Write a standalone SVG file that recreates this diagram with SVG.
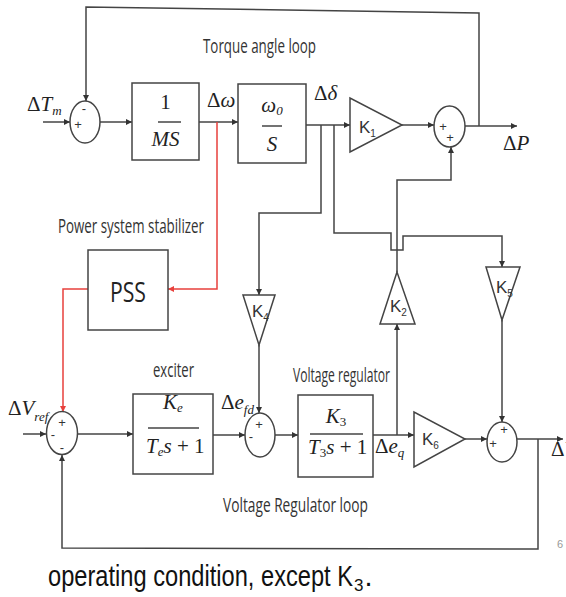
<svg xmlns="http://www.w3.org/2000/svg" width="566" height="597" viewBox="0 0 566 597">
<style>
.ln{fill:none;stroke:#444;stroke-width:1.5}
.rd{fill:none;stroke:#e8403c;stroke-width:1.5}
.bx{fill:#fff;stroke:#444;stroke-width:1.5}
.lb{font-family:"Open Sans","Liberation Sans",sans-serif;font-size:20px;fill:#333}
.mt{font-family:"Liberation Serif",serif;font-style:italic;font-size:21px;fill:#222}
.up{font-style:normal}
.sg{font-family:"Liberation Sans",sans-serif;font-size:13px;fill:#333;text-anchor:middle;dominant-baseline:central}
.kk{font-family:"Liberation Sans",sans-serif;font-size:17px;fill:#333}
.ks{font-family:"Liberation Sans",sans-serif;font-size:10px;fill:#333}
.mid{text-anchor:middle}
.bt{font-family:"Liberation Sans",Arial,sans-serif;fill:#111}
</style>
<defs>
<marker id="ar" markerWidth="7" markerHeight="7" refX="6" refY="3" orient="auto" markerUnits="userSpaceOnUse"><path d="M0,0 L6,3 L0,6 z" fill="#333"/></marker>
<marker id="arr" markerWidth="7" markerHeight="7" refX="6" refY="3" orient="auto" markerUnits="userSpaceOnUse"><path d="M0,0 L6,3 L0,6 z" fill="#e8403c"/></marker>
</defs>
<rect width="566" height="597" fill="#fff"/>

<g id="connectors">
<polyline class="ln" points="479,126 479,13 86,7 86,101" marker-end="url(#ar)"/>
<line class="ln" x1="43" y1="122" x2="70" y2="122" marker-end="url(#ar)"/>
<line class="ln" x1="100" y1="122" x2="132" y2="122" marker-end="url(#ar)"/>
<line class="ln" x1="199" y1="122" x2="238" y2="122" marker-end="url(#ar)"/>
<polyline class="rd" points="217,122 217,289 168,289" marker-end="url(#arr)"/>
<polyline class="rd" points="88,289 63,289 63,412" marker-end="url(#arr)"/>
<line class="ln" x1="306" y1="125" x2="350" y2="125" marker-end="url(#ar)"/>
<line class="ln" x1="402" y1="125" x2="434" y2="125" marker-end="url(#ar)"/>
<line class="ln" x1="465" y1="126" x2="517" y2="126" marker-end="url(#ar)"/>
<polyline class="ln" points="321,125 321,213 259,213 259,295" marker-end="url(#ar)"/>
<line class="ln" x1="259" y1="345" x2="259" y2="413" marker-end="url(#ar)"/>
<polyline class="ln" points="334,125 334,233 391,233 391,250 403,250 403,236 502,236 502,267" marker-end="url(#ar)"/>
<line class="ln" x1="397" y1="435" x2="397" y2="324" marker-end="url(#ar)"/>
<polyline class="ln" points="397,272 397,180 451,180 451,147" marker-end="url(#ar)"/>
<line class="ln" x1="23" y1="434" x2="46" y2="434" marker-end="url(#ar)"/>
<line class="ln" x1="77" y1="434" x2="133" y2="434" marker-end="url(#ar)"/>
<line class="ln" x1="213" y1="435" x2="245" y2="435" marker-end="url(#ar)"/>
<line class="ln" x1="275" y1="435" x2="298" y2="435" marker-end="url(#ar)"/>
<line class="ln" x1="373" y1="435" x2="414" y2="435" marker-end="url(#ar)"/>
<line class="ln" x1="465" y1="439" x2="487" y2="439" marker-end="url(#ar)"/>
<line class="ln" x1="502" y1="320" x2="502" y2="422" marker-end="url(#ar)"/>
<line class="ln" x1="517" y1="439" x2="563" y2="439" marker-end="url(#ar)"/>
<polyline class="ln" points="538,439 538,549 62,548 62,455" marker-end="url(#ar)"/>
</g>

<g id="sum1">
<ellipse class="bx" cx="85" cy="122" rx="15" ry="21"/>
<text class="sg" x="84" y="108">-</text>
<text class="sg" x="78" y="124">+</text>
</g>
<g id="block-1-MS">
<rect class="bx" x="132" y="83" width="67" height="77"/>
<text class="mt mid up" x="165.5" y="109">1</text>
<line class="ln" x1="158" y1="122" x2="181" y2="122"/>
<text class="mt mid" x="165.5" y="146">MS</text>
</g>
<g id="block-w0-S">
<rect class="bx" x="238" y="84" width="68" height="79"/>
<text class="mt mid" x="272" y="112">ω<tspan font-size="13" dy="3">0</tspan></text>
<line class="ln" x1="262" y1="126" x2="282" y2="126"/>
<text class="mt mid" x="272" y="151">S</text>
</g>
<g id="K1">
<polygon class="bx" points="350,98 350,152 402,125"/>
<text class="kk" x="359" y="133">K<tspan class="ks" dy="4">1</tspan></text>
</g>
<g id="sum2">
<ellipse class="bx" cx="449.5" cy="126.5" rx="15.5" ry="20.5"/>
<text class="sg" x="443" y="126">+</text>
<text class="sg" x="450" y="137">+</text>
</g>
<g id="PSS">
<rect class="bx" x="88" y="250" width="80" height="80"/>
<text x="128" y="302" text-anchor="middle" font-family="Open Sans, Liberation Sans, sans-serif" font-size="28" fill="#222" textLength="36" lengthAdjust="spacingAndGlyphs">PSS</text>
</g>
<g id="K4">
<polygon class="bx" points="243,295 275,295 259,345"/>
<text class="kk" x="252" y="317">K<tspan class="ks" dy="4">4</tspan></text>
</g>
<g id="K2">
<polygon class="bx" points="397,272 380,324 415,324"/>
<text class="kk" x="390" y="312">K<tspan class="ks" dy="4">2</tspan></text>
</g>
<g id="K5">
<polygon class="bx" points="486,267 520,267 502,320"/>
<text class="kk" x="496" y="293">K<tspan class="ks" dy="4">5</tspan></text>
</g>
<g id="sum3">
<ellipse class="bx" cx="62" cy="433" rx="15.5" ry="21.5"/>
<text class="sg" x="62" y="422">+</text>
<text class="sg" x="53" y="434">-</text>
<text class="sg" x="62" y="447">-</text>
</g>
<g id="exciter">
<rect class="bx" x="133" y="394" width="80" height="80"/>
<text class="mt mid" x="173" y="409">K<tspan font-size="13" dy="3">e</tspan></text>
<line class="ln" x1="148" y1="428" x2="199" y2="428"/>
<text class="mt" x="146" y="453">T<tspan font-size="13" dy="3">e</tspan><tspan dy="-3">s</tspan><tspan class="up"> + 1</tspan></text>
</g>
<g id="sum4">
<ellipse class="bx" cx="260" cy="435" rx="15" ry="22"/>
<text class="sg" x="259" y="424">+</text>
<text class="sg" x="251" y="436">-</text>
</g>
<g id="block-K3">
<rect class="bx" x="298" y="395" width="75" height="82"/>
<text class="mt mid" x="336" y="423">K<tspan class="up" font-size="13" dy="3">3</tspan></text>
<line class="ln" x1="310" y1="434" x2="363" y2="434"/>
<text class="mt" x="308" y="454">T<tspan class="up" font-size="13" dy="3">3</tspan><tspan dy="-3">s</tspan><tspan class="up"> + 1</tspan></text>
</g>
<g id="K6">
<polygon class="bx" points="414,412 414,467 465,439"/>
<text class="kk" x="422" y="445">K<tspan class="ks" dy="4">6</tspan></text>
</g>
<g id="sum5">
<ellipse class="bx" cx="502" cy="442" rx="15" ry="20"/>
<text class="sg" x="493" y="443">+</text>
<text class="sg" x="504" y="429">+</text>
</g>

<g id="labels">
<text class="lb" x="203" y="53" textLength="113" lengthAdjust="spacingAndGlyphs">Torque angle loop</text>
<text class="lb" x="58" y="233" textLength="146" lengthAdjust="spacingAndGlyphs">Power system stabilizer</text>
<text class="lb" x="153" y="377" textLength="41" lengthAdjust="spacingAndGlyphs">exciter</text>
<text class="lb" x="293" y="382" textLength="97" lengthAdjust="spacingAndGlyphs">Voltage regulator</text>
<text class="lb" x="223" y="512" textLength="145" lengthAdjust="spacingAndGlyphs">Voltage Regulator loop</text>
<text class="mt" x="27" y="111"><tspan class="up">Δ</tspan>T<tspan font-size="13" dy="4">m</tspan></text>
<text class="mt" x="207" y="107"><tspan class="up">Δ</tspan>ω</text>
<text class="mt" x="314" y="100"><tspan class="up">Δ</tspan>δ</text>
<text class="mt" x="503" y="150"><tspan class="up">Δ</tspan>P</text>
<text class="mt" x="551" y="456"><tspan class="up">Δ</tspan>V</text>
<text class="mt" x="8" y="415"><tspan class="up">Δ</tspan>V<tspan font-size="13" dy="6">ref</tspan></text>
<text class="mt" x="221" y="409"><tspan class="up">Δ</tspan>e<tspan font-size="13" dy="5">fd</tspan></text>
<text class="mt" x="375" y="453"><tspan class="up">Δ</tspan>e<tspan font-size="13" dy="4">q</tspan></text>
<text x="557" y="548" font-family="Liberation Sans, sans-serif" font-size="11" fill="#999">6</text>
<text class="bt" x="48" y="586" font-size="29"><tspan textLength="305" lengthAdjust="spacingAndGlyphs">operating condition, except K</tspan><tspan font-size="17" dx="1" dy="5">3</tspan><tspan dx="1" dy="-5">.</tspan></text>
</g>
</svg>
